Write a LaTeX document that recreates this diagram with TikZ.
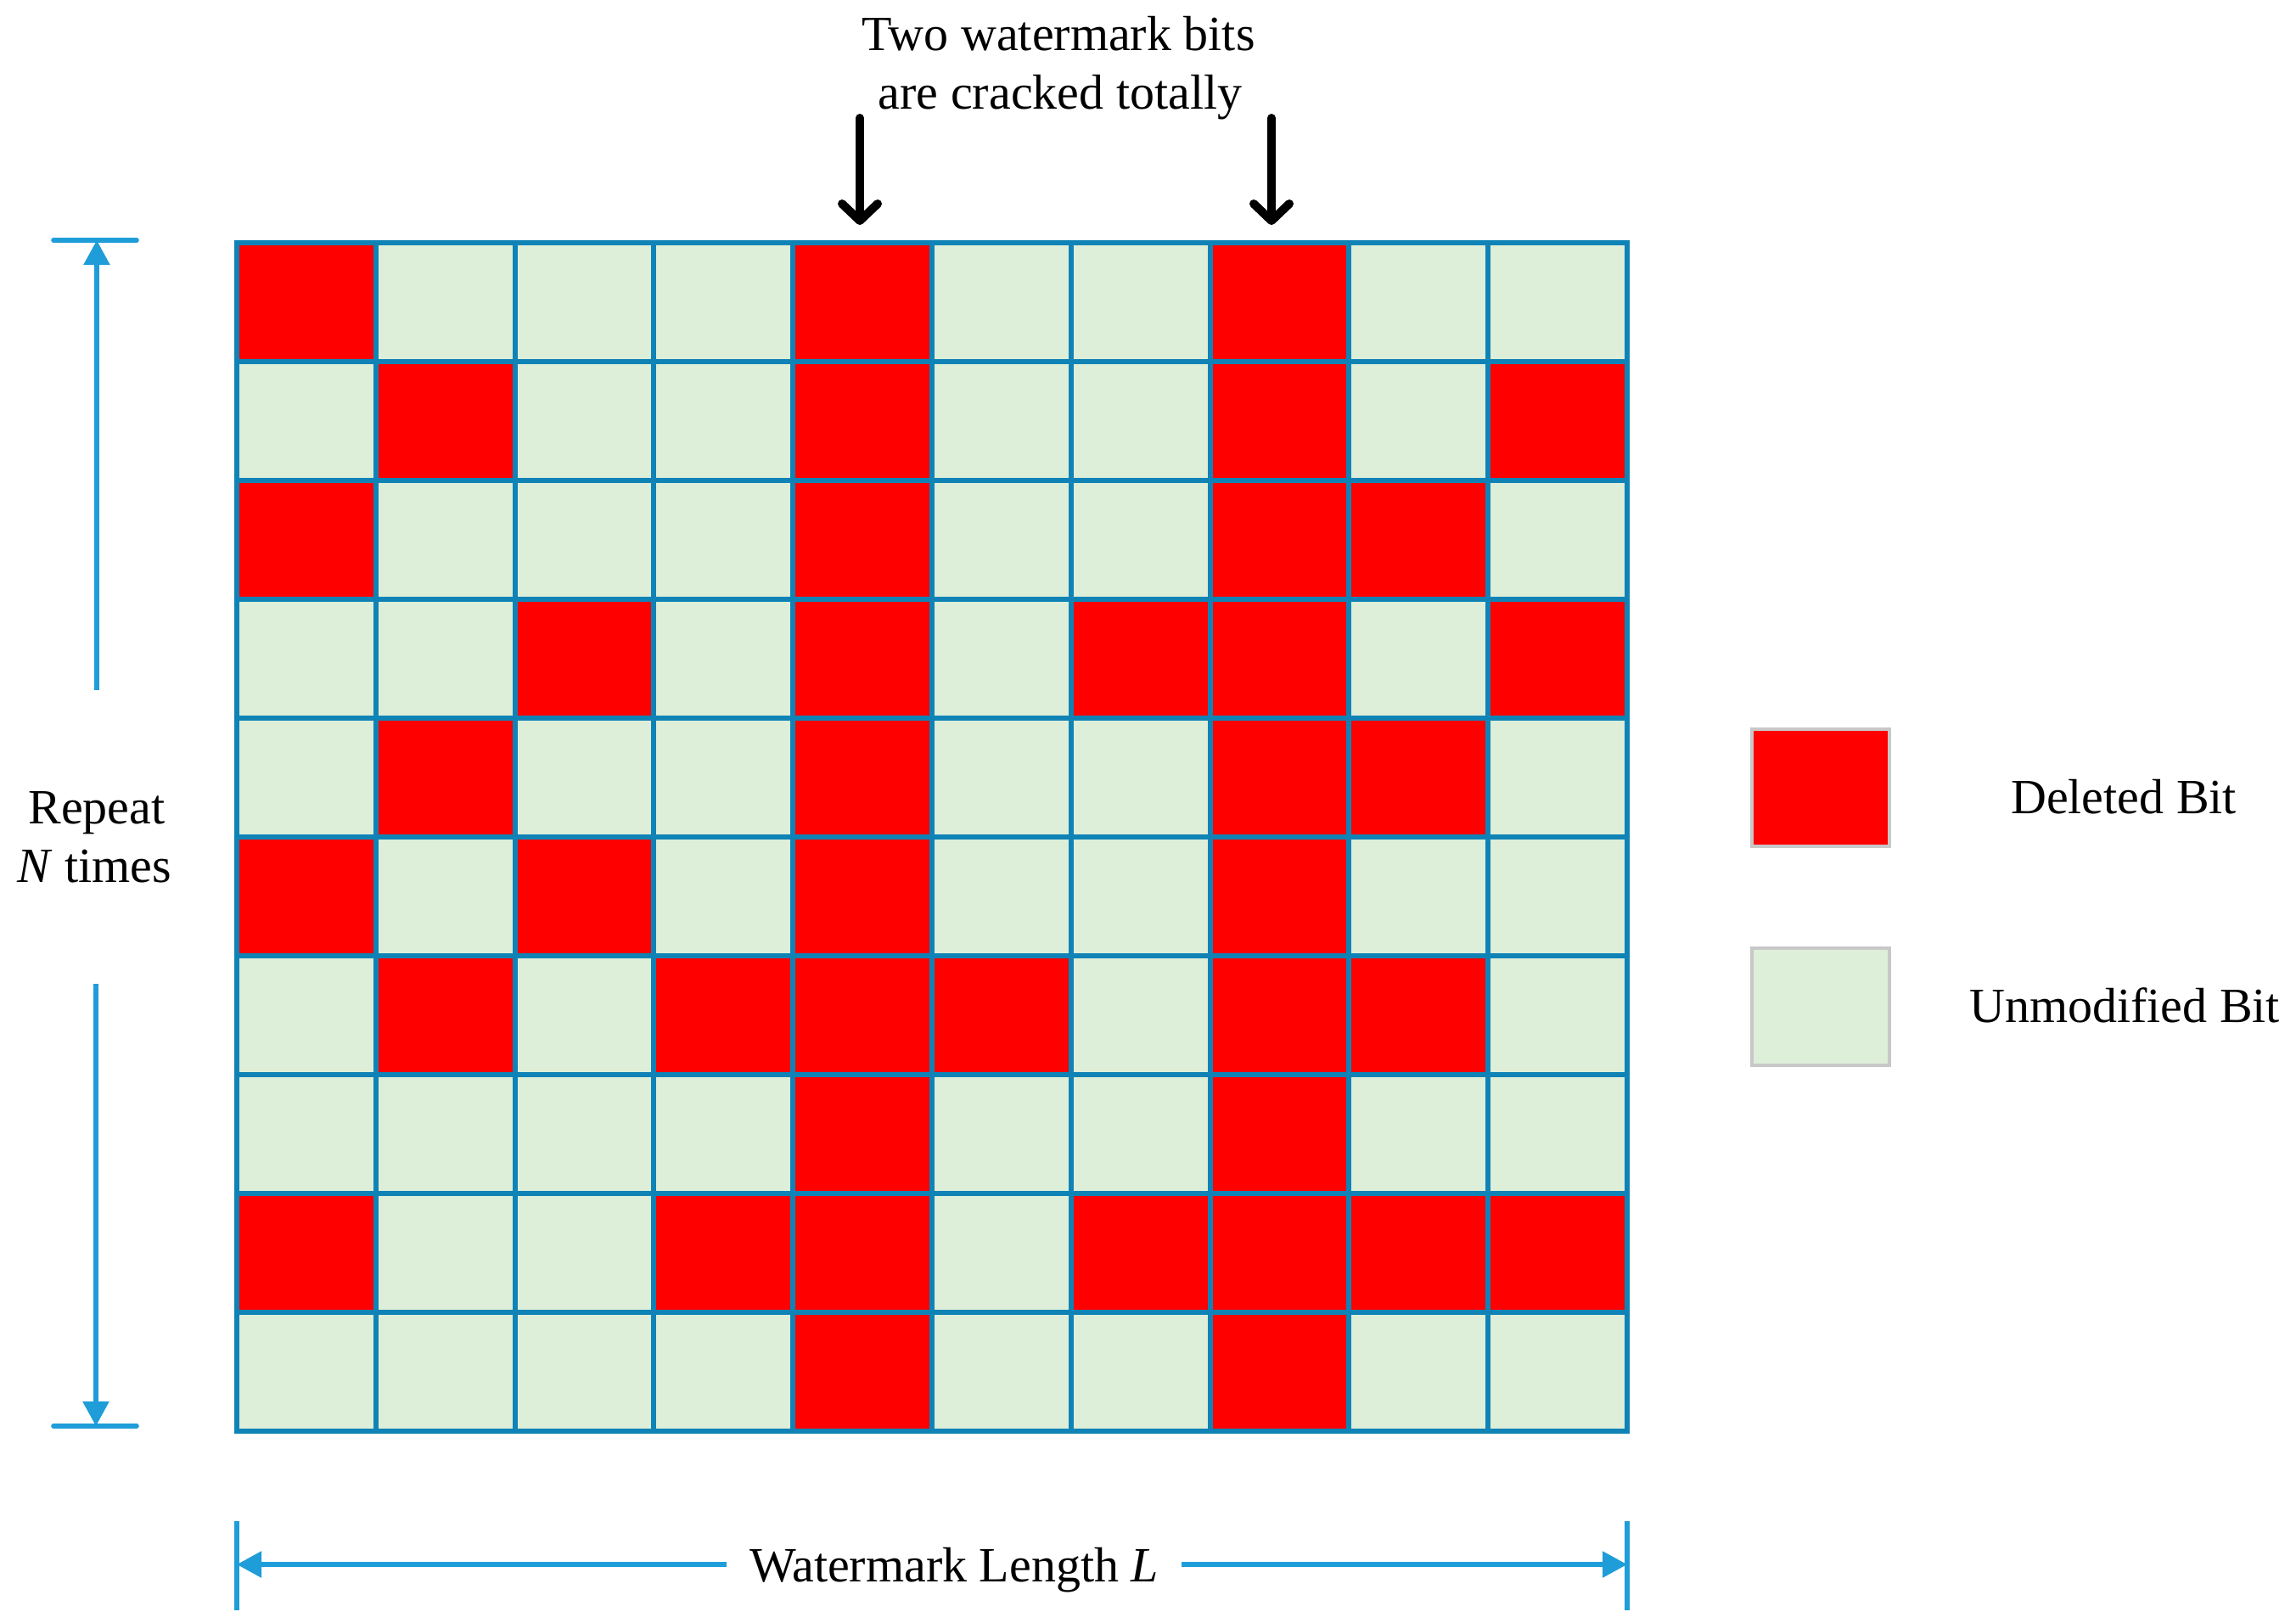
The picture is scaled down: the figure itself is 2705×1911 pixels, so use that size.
\documentclass[tikz,border=0pt]{standalone}
\usepackage{fontspec}
\setmainfont{Liberation Serif}
\usetikzlibrary{arrows.meta}
\definecolor{gridblue}{HTML}{1083B6}
\definecolor{dimblue}{HTML}{1E9DD9}
\definecolor{bitone}{HTML}{FF0000}
\definecolor{bitzero}{HTML}{DDEED9}
\definecolor{legendgray}{HTML}{C8C8C8}
\tikzset{
  cell/.style={draw=gridblue, line width=1.5pt, minimum width=40.95pt, minimum height=35pt, inner sep=0pt, outer sep=0pt},
  legbox/.style={draw=legendgray, line width=1pt, minimum width=40.5pt, minimum height=34.5pt, inner sep=0pt},
  lbl/.style={font=\fontsize{14.5pt}{17.25pt}\selectfont, inner sep=0pt, anchor=base, text=black},
  dimline/.style={draw=dimblue, line width=1.4pt},
  dimarrow/.style={dimline, -{Triangle[length=7.25pt,width=7.5pt]}},
  hitarrow/.style={draw=black, line width=2.5pt, line cap=round, line join=round, -{Straight Barb[length=5pt,width=10.5pt,line cap=round,line join=round]}}
}
\begin{document}
\begin{tikzpicture}[x=0.25pt, y=-0.25pt]
\useasboundingbox (0,0) rectangle (2705,1911);
% grid of bits
\foreach \rowbits [count=\r from 0] in {
  {1,0,0,0,1,0,0,1,0,0},
  {0,1,0,0,1,0,0,1,0,1},
  {1,0,0,0,1,0,0,1,1,0},
  {0,0,1,0,1,0,1,1,0,1},
  {0,1,0,0,1,0,0,1,1,0},
  {1,0,1,0,1,0,0,1,0,0},
  {0,1,0,1,1,1,0,1,1,0},
  {0,0,0,0,1,0,0,1,0,0},
  {1,0,0,1,1,0,1,1,1,1},
  {0,0,0,0,1,0,0,1,0,0}} {
  \foreach \v [count=\c from 0] in \rowbits {
    \ifnum\v=1 \def\cellcol{bitone}\else \def\cellcol{bitzero}\fi
    \node[cell, fill=\cellcol] (c\r-\c) at ({279+163.8*(\c+0.5)},{286+140*(\r+0.5)}) {};
  }
}
% title and arrows
\node[lbl] (title1) at (1247,59) {Two watermark bits};
\node[lbl] (title2) at (1249,128) {are cracked totally};
\coordinate (hitA) at (1013,139);
\coordinate (hitB) at (1498,139);
\coordinate (hitAend) at (1013,265);
\coordinate (hitBend) at (1498,265);
\draw[hitarrow] (hitA) -- (hitAend);
\draw[hitarrow] (hitB) -- (hitBend);
% left dimension
\node[lbl] (rep1) at (114,970) {Repeat};
\node[lbl] (rep2) at (111,1039) {\textit{N} times};
\coordinate (ttopL) at (63,283);
\coordinate (ttopR) at (161,283);
\coordinate (tbotL) at (63,1680);
\coordinate (tbotR) at (161,1680);
\coordinate (ttop) at (114,283);
\coordinate (tbot) at (113,1680);
\coordinate (vupstart) at (114,813);
\coordinate (vdownstart) at (113,1159);
\draw[dimline, line cap=round] (ttopL) -- (ttopR);
\draw[dimline, line cap=round] (tbotL) -- (tbotR);
\draw[dimarrow] (vupstart) -- (ttop);
\draw[dimarrow] (vdownstart) -- (tbot);
% bottom dimension
\node[lbl, inner xsep=6.5pt] (wl) at (1124,1863) {Watermark Length \textit{L}};
\coordinate (hL) at (279,1843);
\coordinate (hR) at (1917,1843);
\coordinate (hLt) at (279,1792);
\coordinate (hLb) at (279,1897);
\coordinate (hRt) at (1917,1792);
\coordinate (hRb) at (1917,1897);
\draw[dimline] (hLt) -- (hLb);
\draw[dimline] (hRt) -- (hRb);
\draw[dimarrow] (wl.west |- hL) -- (hL);
\draw[dimarrow] (wl.east |- hR) -- (hR);
% legend
\node[legbox, fill=bitone] (legdel) at (2145,928) {};
\node[legbox, fill=bitzero] (legun) at (2145,1185.5) {};
\node[lbl] (legdeltext) at (2502,958) {Deleted Bit};
\node[lbl] (leguntext) at (2503,1204) {Unmodified Bit};
\end{tikzpicture}
\end{document}
